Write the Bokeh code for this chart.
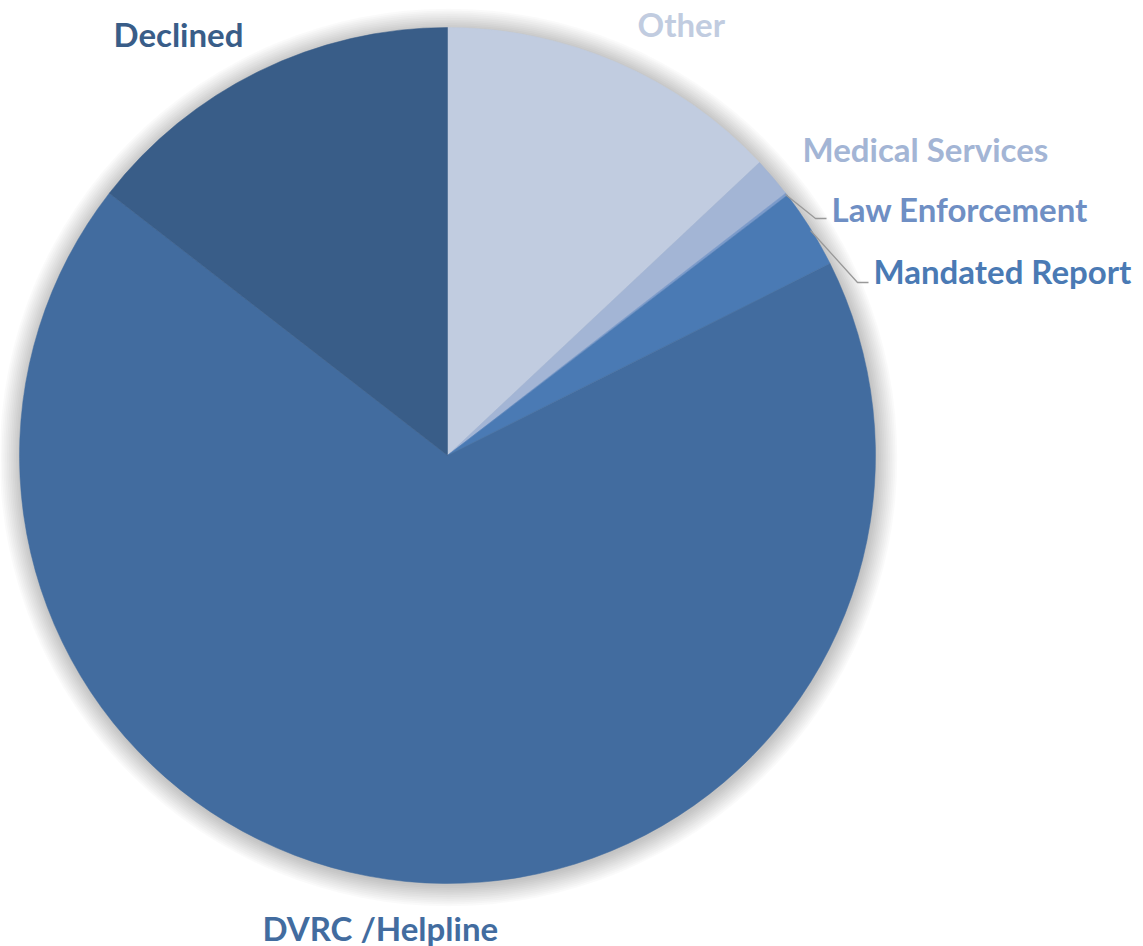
import numpy as np
from bokeh.plotting import figure
from bokeh.models import ColumnDataSource, Range1d
from bokeh.core.properties import value
from bokeh.embed import file_html
from bokeh.resources import INLINE

# ---- data (percent shares, clockwise from 12 o'clock) ----
categories = ["Other", "Medical Services", "Law Enforcement", "Mandated Report", "DVRC /Helpline", "Declined"]
shares = [13.0, 1.5, 0.1, 3.0, 67.9, 14.5]
slice_colors = ["#C1CCE0", "#A3B5D5", "#7A9ACB", "#4A7AB4", "#426C9F", "#395D88"]
label_colors = ["#C1CCE0", "#A3B5D5", "#6F8FC4", "#4A7AB4", "#426C9F", "#395D88"]

W, H = 1143, 946
CX, CY, R = 447, H - 455, 428

p = figure(width=W, height=H, output_backend="svg", toolbar_location=None,
           x_range=Range1d(0, W), y_range=Range1d(0, H),
           x_axis_location=None, y_axis_location=None, min_border=0)
p.outline_line_color = None
p.grid.visible = False
p.background_fill_color = "white"
p.border_fill_color = "white"

# soft shadow
for i in range(12):
    p.circle(x=[CX + 1], y=[CY - 2], radius=R + 1 + i * 1.8, fill_color="#000000",
             fill_alpha=0.02, line_color=None)

vals = np.array(shares, dtype=float)
ang = vals / vals.sum() * 2 * np.pi
cum = np.concatenate([[0], np.cumsum(ang)])
start = np.pi / 2 - cum[:-1]
end = np.pi / 2 - cum[1:]
src = ColumnDataSource(dict(cat=categories, start=start, end=end, color=slice_colors))
p.wedge(x=CX, y=CY, radius=R, start_angle="start", end_angle="end", direction="clock",
        fill_color="color", line_color="color", line_width=0.5, source=src)

# labels (layout positions in pixels, left x, middle y from top)
label_pos = {
    "Declined": (113, 33),
    "Other": (637, 23),
    "Medical Services": (802, 148),
    "Law Enforcement": (831, 208),
    "Mandated Report": (873, 270),
    "DVRC /Helpline": (262, 927),
}
lx = [label_pos[c][0] for c in categories]
ly = [H - label_pos[c][1] for c in categories]
lsrc = ColumnDataSource(dict(x=lx, y=ly, t=categories, c=label_colors))
p.text(x="x", y="y", text="t", text_color="c", source=lsrc, text_font=value("Lato"),
       text_font_style="bold", text_font_size="33px", text_baseline="middle", text_align="left")

# leader lines
p.line(x=[785, 815, 826], y=[H - 194, H - 218, H - 218], line_color="#999999", line_width=1.3)
p.line(x=[810, 857, 868], y=[H - 230, H - 282, H - 282], line_color="#999999", line_width=1.3)

open("out.html", "w").write(file_html(p, INLINE))
